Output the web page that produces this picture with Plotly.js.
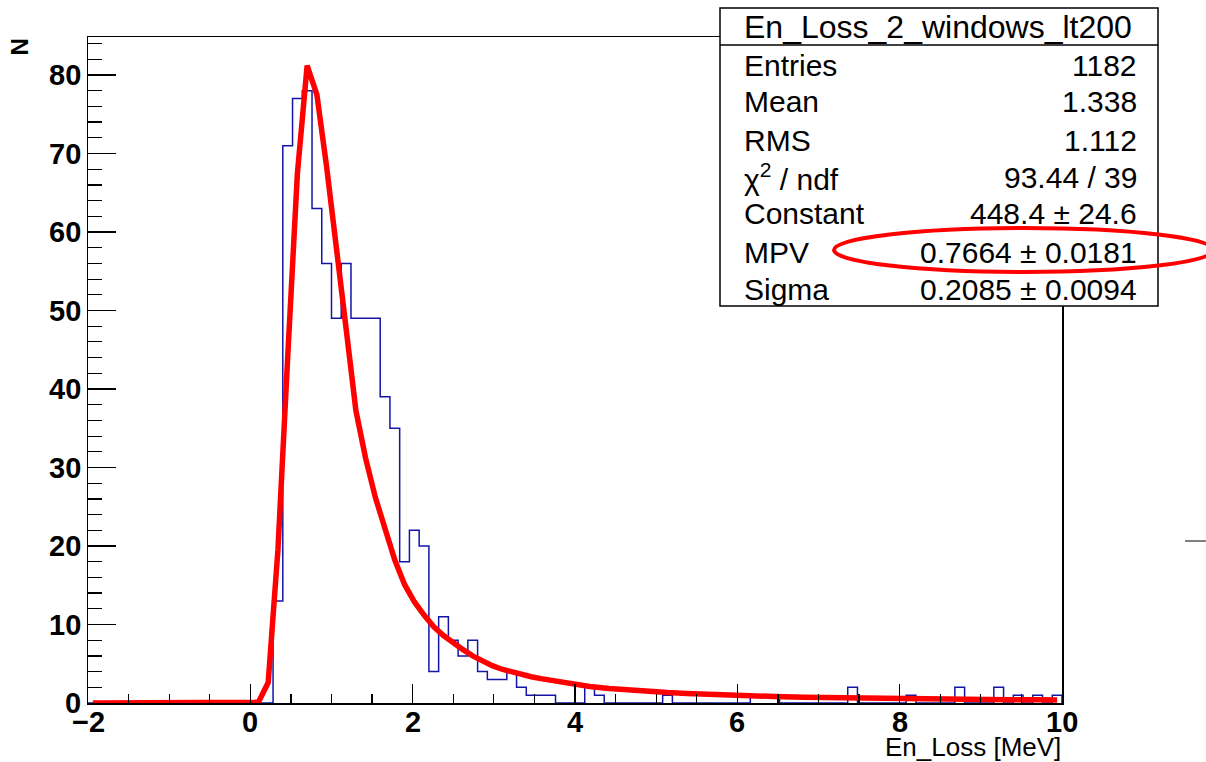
<!DOCTYPE html>
<html>
<head>
<meta charset="utf-8">
<script src="https://cdn.plot.ly/plotly-3.0.1.min.js"></script>
<style>
html,body{margin:0;padding:0;background:#fff;}
#chart{width:1206px;height:762px;}
</style>
</head>
<body>
<div id="chart"></div>
<script>
// ---- data ----
const binLow = -2;
const binWidth = 0.12;
const counts = [
  0,0,0,0,0,0,0,0,0,0,
  0,0,0,0,0,0,0,0,0,13,
  71,77,78,63,56,49,56,49,49,49,
  39,35,18,22,20,4,11,8,6,8,
  4,3,3,4,2,1,1,1,0,0,
  0,2,1,0,0,0,0,0,0,1,
  0,0,0,0,0,0,0,0,1,1,
  1,0,0,0,0,0,0,0,2,0,
  0,0,0,0,1,0,0,0,0,2,
  0,0,0,2,0,1,0,1,0,1
];
const fitX = [-1.94,-0.02,0.10,0.22,0.34,0.46,0.58,0.70,0.82,0.94,1.06,1.18,1.30,1.42,1.54,1.66,1.78,1.90,
  2.02,2.14,2.26,2.38,2.50,2.62,2.74,2.86,2.98,3.10,3.22,3.34,3.46,3.58,3.70,3.82,3.94,
  4.18,4.42,4.66,4.90,5.14,5.38,5.62,5.86,6.10,6.46,6.82,7.18,7.54,7.90,8.26,8.62,8.98,9.34,9.70,9.94];
const fitY = [0,0,0.1,2.6,19.5,44,67.5,81.2,77.5,68.3,57.3,47.7,37.3,31.2,26.2,21.9,18.2,15.1,
  12.9,11.2,9.7,8.6,7.6,6.8,6.0,5.3,4.75,4.3,3.95,3.6,3.35,3.1,2.9,2.7,2.45,
  2.1,1.85,1.62,1.45,1.33,1.22,1.1,1.01,0.94,0.82,0.74,0.67,0.61,0.56,0.52,0.48,0.45,0.42,0.40,0.38];
const xTickVals = [-2, 0, 2, 4, 6, 8, 10];
const xTickText = ["\u22122", "0", "2", "4", "6", "8", "10"];
const yTickVals = [0, 10, 20, 30, 40, 50, 60, 70, 80];
const yTickText = ["0", "10", "20", "30", "40", "50", "60", "70", "80"];
const statsTitle = "En_Loss_2_windows_lt200";
const statsLabels = ["Entries","Mean","RMS","χ<sup>2</sup> / ndf","Constant","MPV","Sigma"];
const statsValues = ["1182","1.338","1.112","93.44 / 39","448.4 ± 24.6","0.7664 ± 0.0181","0.2085 ± 0.0094"];
const xTitle = "En_Loss [MeV]";
const yTitle = "N";

// ---- geometry helpers (pixels -> paper) ----
const PL = 88, PR = 1062, PT = 37, PB = 703;
const px = x => (x - PL) / (PR - PL);
const py = y => (PB - y) / (PB - PT);

// histogram step outline
const edgesX = [];
const stepY = [];
for (let i = 0; i < counts.length; i++) {
  edgesX.push(+(binLow + i * binWidth).toFixed(4));
  stepY.push(counts[i]);
}
const hiEdge = +(binLow + counts.length * binWidth).toFixed(4);
edgesX.push(hiEdge); stepY.push(counts[counts.length - 1]);
edgesX.push(hiEdge); stepY.push(0);

const traces = [
  {x: edgesX, y: stepY, type: 'scatter', mode: 'lines',
   line: {shape: 'hv', color: '#1414a8', width: 1.5}, hoverinfo: 'skip'},
  {x: fitX, y: fitY, type: 'scatter', mode: 'lines',
   line: {color: '#ff0000', width: 5.5}, hoverinfo: 'skip'}
];

const FONT = 'Liberation Sans, Arial, Helvetica, sans-serif';
const tickFont = {family: FONT, size: 29, color: '#000', weight: 'bold'};
const rowY = [65, 102, 140, 177, 214, 252, 289];
const annotations = [];
annotations.push({xref:'paper', yref:'paper', x: px(938), y: py(27), text: statsTitle,
  showarrow:false, xanchor:'center', yanchor:'middle', font:{family:FONT, size:32, color:'#000'}});
statsLabels.forEach((t, i) => {
  annotations.push({xref:'paper', yref:'paper', x: px(742), y: py(rowY[i]), text: t,
    showarrow:false, xanchor:'left', yanchor:'middle', font:{family:FONT, size:30, color:'#000'}});
  annotations.push({xref:'paper', yref:'paper', x: px(1139), y: py(rowY[i]), text: statsValues[i],
    showarrow:false, xanchor:'right', yanchor:'middle', font:{family:FONT, size:30, color:'#000'}});
});
// tick labels placed at the axis values
xTickVals.forEach((v, i) => {
  annotations.push({xref:'x', yref:'paper', x: v, y: py(722), text: xTickText[i],
    showarrow:false, xanchor:'center', yanchor:'middle', font: tickFont});
});
yTickVals.forEach((v, i) => {
  annotations.push({xref:'paper', yref:'y', x: px(83), y: v, text: yTickText[i],
    showarrow:false, xanchor:'right', yanchor:'middle', font: tickFont});
});
annotations.push({xref:'paper', yref:'paper', x: px(1063), y: py(747), text: xTitle,
  showarrow:false, xanchor:'right', yanchor:'middle', font:{family:FONT, size:26, color:'#000'}});
annotations.push({xref:'paper', yref:'paper', x: px(19), y: py(37), text: yTitle, textangle: -90,
  showarrow:false, xanchor:'center', yanchor:'top', font:{family:FONT, size:24, color:'#000', weight:'bold'}});

const shapes = [
  {type:'rect', xref:'paper', yref:'paper', x0: px(720), x1: px(1158), y0: py(306), y1: py(8),
   fillcolor:'#ffffff', line:{color:'#000', width:1.5}, layer:'above'},
  {type:'line', xref:'paper', yref:'paper', x0: px(720), x1: px(1158), y0: py(45), y1: py(45),
   line:{color:'#000', width:1.5}, layer:'above'},
  {type:'circle', xref:'paper', yref:'paper', x0: px(834), x1: px(1214), y0: py(272), y1: py(228),
   line:{color:'#ff0000', width:4}, layer:'above'},
  {type:'line', xref:'paper', yref:'paper', x0: px(1185), x1: px(1206), y0: py(541), y1: py(541),
   line:{color:'#000', width:1}, layer:'above'}
];

const layout = {
  width: 1206, height: 762,
  margin: {l: PL, r: 1206 - PR, t: PT, b: 762 - PB, pad: 0},
  paper_bgcolor: '#fff', plot_bgcolor: '#fff',
  showlegend: false,
  xaxis: {range: [-2, 10], tick0: -2, dtick: 2, ticks: 'inside', ticklen: 19, tickwidth: 1.2,
    tickcolor: '#000', showline: true, linecolor: '#000', linewidth: 1.5, mirror: true,
    showgrid: false, zeroline: false, showticklabels: false,
    minor: {dtick: 0.5, tick0: -2, ticks: 'inside', ticklen: 9, tickwidth: 1.2, tickcolor: '#000', showgrid: false}},
  yaxis: {range: [0, 84.84], tick0: 0, dtick: 10, ticks: 'inside', ticklen: 28, tickwidth: 1.2,
    tickcolor: '#000', showline: true, linecolor: '#000', linewidth: 1.5, mirror: true,
    showgrid: false, zeroline: false, showticklabels: false,
    minor: {dtick: 2, tick0: 0, ticks: 'inside', ticklen: 14, tickwidth: 1.2, tickcolor: '#000', showgrid: false}},
  shapes: shapes,
  annotations: annotations
};

Plotly.newPlot('chart', traces, layout, {displayModeBar: false, staticPlot: true});
</script>
</body>
</html>
